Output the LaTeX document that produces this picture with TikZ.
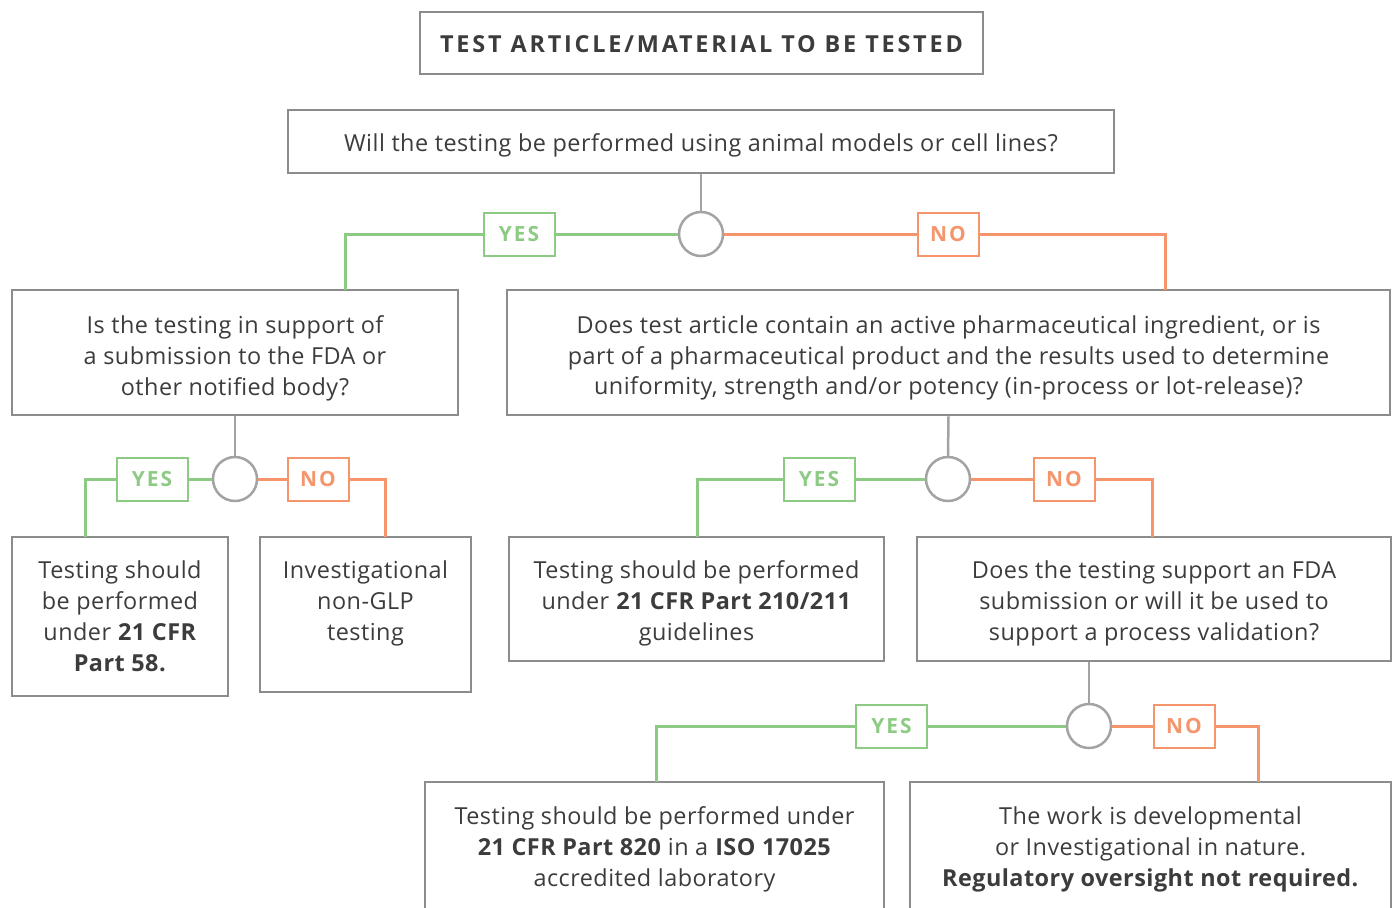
\documentclass[tikz,border=0pt]{standalone}
\usepackage{fontspec}
\setmainfont{Open Sans}[LetterSpace=2]
\newfontfamily\capsfont[LetterSpace=10]{Open Sans}
\newfontfamily\titlefont[LetterSpace=12]{Open Sans}
\definecolor{boxgray}{HTML}{8C8C8C}
\definecolor{textgray}{HTML}{3C3C3C}
\definecolor{circgray}{HTML}{A3A3A3}
\definecolor{yesgreen}{HTML}{8DCB84}
\definecolor{noorange}{HTML}{F4956B}
\newcommand{\mkbox}[7]{%
  \node[box, minimum width=#4bp, minimum height=#5bp] (#1) at (#2,#3) {};
  \node[txt] (#1-t) at (#2,#3+#6) {#7};}
\begin{document}
\begin{tikzpicture}[x=1bp,y=-1bp,
  box/.style={draw=boxgray, line width=2.5bp, fill=white, inner sep=0pt},
  txt/.style={inner sep=0pt, align=center, text=textgray, font=\fontsize{23.5}{31}\selectfont},
  dec/.style={circle, draw=circgray, line width=2.5bp, fill=white, minimum size=44bp, inner sep=0pt},
  yeslab/.style={draw=yesgreen, line width=2bp, fill=white, text=yesgreen, font=\capsfont\bfseries\fontsize{21}{21}\selectfont, minimum height=43bp, minimum width=71bp, inner sep=0pt},
  nolab/.style={draw=noorange, line width=2bp, fill=white, text=noorange, font=\capsfont\bfseries\fontsize{21}{21}\selectfont, minimum height=43bp, minimum width=61bp, inner sep=0pt},
  yesline/.style={draw=yesgreen, line width=3bp},
  noline/.style={draw=noorange, line width=3bp},
  stem/.style={draw=circgray, line width=2.5bp}
]
\useasboundingbox (0,0) rectangle (1394,907);

% boxes
\mkbox{title}{701.5}{43}{563}{62}{1}{\titlefont\bfseries\fontsize{23.5}{26}\selectfont TEST ARTICLE/MATERIAL TO BE TESTED}
\mkbox{q1}{701}{141.5}{826}{63}{4}{Will the testing be performed using animal models or cell lines?}
\mkbox{l1}{235}{352.5}{446}{125}{5.5}{Is the testing in support of\\a submission to the FDA or\\other notified body?}
\mkbox{r1}{948.5}{352.5}{883}{125}{5.5}{Does test article contain an active pharmaceutical ingredient, or is\\part of a pharmaceutical product and the results used to determine\\uniformity, strength and/or potency (in-process or lot-release)?}
\mkbox{ll}{120}{616.5}{216}{159}{0}{Testing should\\be performed\\under \textbf{21 CFR}\\\textbf{Part 58.}}
\mkbox{lr}{365.5}{614.5}{211}{155}{-11}{Investigational\\non-GLP\\testing}
\mkbox{rl}{696.5}{599}{375}{124}{4.5}{Testing should be performed\\under \textbf{21 CFR Part 210/211}\\guidelines}
\mkbox{rr}{1154}{599}{474}{124}{4.5}{Does the testing support an FDA\\submission or will it be used to\\support a process validation?}
\mkbox{bl}{654.5}{846}{459}{128}{3.5}{Testing should be performed under\\\textbf{21 CFR Part 820} in a \textbf{ISO 17025}\\accredited laboratory}
\mkbox{br}{1150.5}{846}{481}{128}{3.5}{The work is developmental\\or Investigational in nature.\\\textbf{Regulatory oversight not required.}}

% decision circles
\node[dec] (c1) at (701,234) {};
\node[dec] (c2) at (235,479) {};
\node[dec] (c3) at (948,479) {};
\node[dec] (c4) at (1089,726) {};

% labels
\node[yeslab] (y1) at (519,234) {YES};
\node[nolab] (n1) at (948,234) {NO};
\node[yeslab] (y2) at (152,479) {YES};
\node[nolab] (n2) at (318,479) {NO};
\node[yeslab] (y3) at (819,479) {YES};
\node[nolab] (n3) at (1064,479) {NO};
\node[yeslab] (y4) at (891.5,726) {YES};
\node[nolab] (n4) at (1184,726) {NO};

% corner coordinates
\coordinate (t1) at (345,290);
\coordinate (f1) at (1165,290);
\coordinate (t2) at (85,537);
\coordinate (f2) at (385,537);
\coordinate (t3) at (697,537);
\coordinate (f3) at (1152,537);
\coordinate (t4) at (656,782);
\coordinate (f4) at (1258,782);

% stems
\draw[stem] (q1.south) -- (c1.north);
\draw[stem] (l1.south) -- (c2.north);
\draw[stem] (r1.south) -- (c3.north);
\draw[stem] (rr.south -| c4) -- (c4.north);

% branches
\draw[yesline] (c1.west) -- (y1.east);
\draw[yesline] (y1.west) -| (t1);
\draw[noline] (c1.east) -- (n1.west);
\draw[noline] (n1.east) -| (f1);

\draw[yesline] (c2.west) -- (y2.east);
\draw[yesline] (y2.west) -| (t2);
\draw[noline] (c2.east) -- (n2.west);
\draw[noline] (n2.east) -| (f2);

\draw[yesline] (c3.west) -- (y3.east);
\draw[yesline] (y3.west) -| (t3);
\draw[noline] (c3.east) -- (n3.west);
\draw[noline] (n3.east) -| (f3);

\draw[yesline] (c4.west) -- (y4.east);
\draw[yesline] (y4.west) -| (t4);
\draw[noline] (c4.east) -- (n4.west);
\draw[noline] (n4.east) -| (f4);
\end{tikzpicture}
\end{document}
